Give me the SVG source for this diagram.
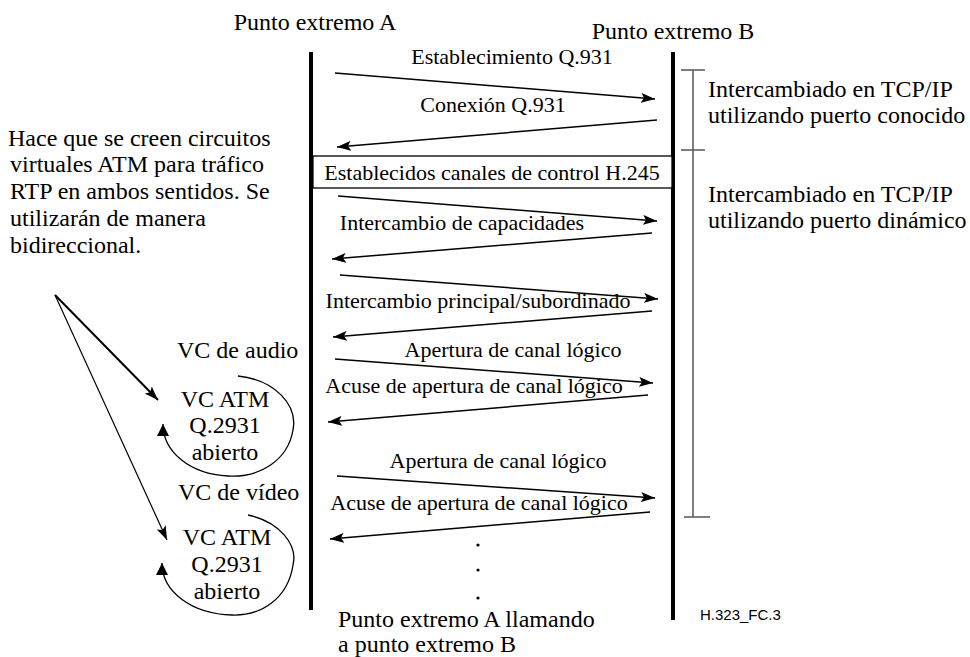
<svg xmlns="http://www.w3.org/2000/svg" width="970" height="657" viewBox="0 0 970 657">
<style>
text{font-family:"Liberation Serif","Times New Roman",serif;fill:#000}
.t24{font-size:24px}
.t22{font-size:22px}
.mid{text-anchor:middle}
.life{stroke:#000;stroke-width:4;fill:none}
.msg{stroke:#000;stroke-width:1.5;fill:none;marker-end:url(#ah)}
.brk{stroke:#606060;stroke-width:1.6;fill:none}
.loop{stroke:#000;stroke-width:1.3;fill:none;marker-end:url(#ah2)}
.sans{font-family:"Liberation Sans",Arial,sans-serif;font-size:15px}
</style>
<defs>
<marker id="ah" markerUnits="userSpaceOnUse" markerWidth="14" markerHeight="10" viewBox="0 0 14 10" refX="14" refY="5" orient="auto">
<path d="M0,0 L14,5 L0,10 L3,5 Z" fill="#000"/>
</marker>
<marker id="ah2" markerUnits="userSpaceOnUse" markerWidth="12" markerHeight="12" viewBox="0 0 12 12" refX="12" refY="6" orient="auto">
<path d="M0,0 L12,6 L0,12 Z" fill="#000"/>
</marker>
</defs>
<rect width="970" height="657" fill="#fff"/>

<g id="endpointA">
<text class="t24 mid" x="315" y="30">Punto extremo A</text>
<line class="life" x1="311" y1="52" x2="311" y2="610"/>
</g>
<g id="endpointB">
<text class="t24 mid" x="673" y="39">Punto extremo B</text>
<line class="life" x1="673" y1="52" x2="673" y2="620"/>
</g>

<g id="h245box">
<rect x="313" y="156" width="359" height="32" fill="#fff" stroke="#000" stroke-width="1.3"/>
<text class="t22 mid" x="492" y="180">Establecidos canales de control H.245</text>
</g>

<g id="bracket">
<line class="brk" x1="693" y1="70" x2="693" y2="517"/>
<line class="brk" x1="681" y1="70" x2="705" y2="70"/>
<line class="brk" x1="681" y1="150" x2="705" y2="150"/>
<line class="brk" x1="684" y1="517" x2="710" y2="517"/>
</g>
<g id="noteKnown">
<text class="t24" x="708" y="97">Intercambiado en TCP/IP</text>
<text class="t24" x="708" y="123">utilizando puerto conocido</text>
</g>
<g id="noteDynamic">
<text class="t24" x="708" y="202">Intercambiado en TCP/IP</text>
<text class="t24" x="708" y="228">utilizando puerto dinámico</text>
</g>

<g id="noteLeft">
<text class="t24" x="8" y="146">Hace que se creen circuitos</text>
<text class="t24" x="10" y="172">virtuales ATM para tráfico</text>
<text class="t24" x="10" y="199">RTP en ambos sentidos. Se</text>
<text class="t24" x="10" y="226">utilizarán de manera</text>
<text class="t24" x="10" y="253">bidireccional.</text>
</g>

<g id="audioVC">
<text class="t24" x="177" y="358">VC de audio</text>
<text class="t24 mid" x="225" y="407">VC ATM</text>
<text class="t24 mid" x="225" y="433">Q.2931</text>
<text class="t24 mid" x="225" y="460">abierto</text>
</g>
<g id="videoVC">
<text class="t24" x="178" y="500">VC de vídeo</text>
<text class="t24 mid" x="227" y="545">VC ATM</text>
<text class="t24 mid" x="227" y="572">Q.2931</text>
<text class="t24 mid" x="227" y="599">abierto</text>
</g>

<g id="caption">
<text class="t24" x="338" y="627">Punto extremo A llamando</text>
<text class="t24" x="338" y="652">a punto extremo B</text>
</g>
<g id="figid">
<text class="sans" x="700" y="620">H.323_FC.3</text>
</g>

<g id="connectors">
<line class="msg" x1="335" y1="73" x2="655" y2="99"/>
<text class="t22 mid" x="512" y="64">Establecimiento Q.931</text>
<line class="msg" x1="657" y1="120" x2="337" y2="147"/>
<text class="t22 mid" x="493" y="112">Conexión Q.931</text>
<line class="msg" x1="338" y1="196" x2="657" y2="221"/>
<text class="t22 mid" x="462" y="230">Intercambio de capacidades</text>
<line class="msg" x1="652" y1="233" x2="332" y2="259"/>
<line class="msg" x1="340" y1="275" x2="658" y2="299"/>
<text class="t22 mid" x="478" y="308">Intercambio principal/subordinado</text>
<line class="msg" x1="652" y1="311" x2="333" y2="337"/>
<text class="t22 mid" x="513" y="357">Apertura de canal lógico</text>
<line class="msg" x1="335" y1="359" x2="653" y2="383"/>
<text class="t22 mid" x="474" y="393">Acuse de apertura de canal lógico</text>
<line class="msg" x1="648" y1="395" x2="328" y2="422"/>
<text class="t22 mid" x="498" y="468">Apertura de canal lógico</text>
<line class="msg" x1="337" y1="476" x2="655" y2="498"/>
<text class="t22 mid" x="479" y="510">Acuse de apertura de canal lógico</text>
<line class="msg" x1="650" y1="512" x2="330" y2="539"/>
<circle cx="478" cy="545" r="1.6" fill="#000"/>
<circle cx="478" cy="570" r="1.6" fill="#000"/>
<circle cx="478" cy="598" r="1.6" fill="#000"/>
<line x1="55" y1="295" x2="158" y2="400" stroke="#000" stroke-width="2" marker-end="url(#ah)"/>
<line x1="55" y1="295" x2="167" y2="540" stroke="#000" stroke-width="1.2" marker-end="url(#ah)"/>
<path class="loop" d="M238,376 C275,380 298,405 293,430 C288,460 260,478 228,476 C190,474 163,452 163,424"/>
<path class="loop" d="M248,515 C280,522 298,545 293,565 C288,598 262,616 232,615 C192,614 162,592 162,563"/>
</g>
</svg>
